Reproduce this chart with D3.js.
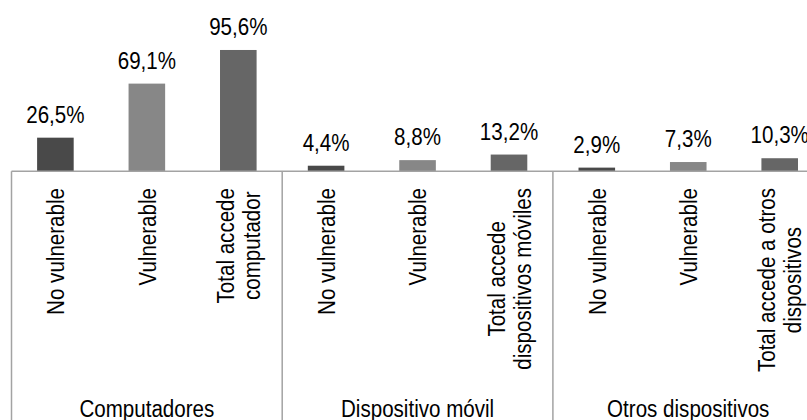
<!DOCTYPE html>
<html>
<head>
<meta charset="utf-8">
<script src="https://cdn.jsdelivr.net/npm/d3@7"></script>
<style>
  html, body { margin: 0; padding: 0; background: #fff; }
  svg { display: block; }
  text { font-family: "Liberation Sans", Arial, sans-serif; fill: #000; }
</style>
</head>
<body>
<svg id="chart" width="807" height="420"></svg>
<script>
// ---- data ----
const groups = ["Computadores", "Dispositivo móvil", "Otros dispositivos"];
const barTypes = ["nv", "v", "total"];
const barLabels = [
  [["No vulnerable"], ["Vulnerable"], ["Total accede", "computador"]],
  [["No vulnerable"], ["Vulnerable"], ["Total accede", "dispositivos móviles"]],
  [["No vulnerable"], ["Vulnerable"], ["Total accede a otros", "dispositivos"]]
];
const values = [
  [26.5, 69.1, 95.6],
  [4.4, 8.8, 13.2],
  [2.9, 7.3, 10.3]
];
const valueLabels = [
  ["26,5%", "69,1%", "95,6%"],
  ["4,4%", "8,8%", "13,2%"],
  ["2,9%", "7,3%", "10,3%"]
];
const colors = ["#494949", "#878787", "#666666"];

// ---- layout ----
const svg = d3.select("#chart");
const x0 = 11.5, groupW = 270.7, baseY = 171.3;
const xGroup = d3.scaleBand().domain(groups).range([x0, x0 + groupW * groups.length]).padding(0);
const xBar = d3.scaleBand().domain(barTypes).range([0, xGroup.bandwidth()]).paddingInner(0.6).paddingOuter(0.28);
const y = d3.scaleLinear().domain([0, 100]).range([baseY, 44.4]);

const fs = 24.5, lh = 26, labelTop = 188, sx = 0.84;
const axisColor = "#a3a3a3";

const data = [];
groups.forEach((g, gi) => barTypes.forEach((t, ti) => data.push({
  g, gi, t, ti, v: values[gi][ti], lab: valueLabels[gi][ti], cat: barLabels[gi][ti]
})));

// bars
svg.append("g").selectAll("rect").data(data).join("rect")
  .attr("x", d => xGroup(d.g) + xBar(d.t))
  .attr("y", d => y(d.v))
  .attr("width", xBar.bandwidth())
  .attr("height", d => y(0) - y(d.v))
  .attr("fill", d => colors[d.ti]);

// value labels (narrow look via horizontal scale)
svg.append("g").selectAll("text").data(data).join("text")
  .attr("transform", d => `translate(${xGroup(d.g) + xBar(d.t) + xBar.bandwidth() / 2},${y(d.v) - 15}) scale(${sx},1)`)
  .attr("text-anchor", "middle")
  .attr("font-size", fs)
  .text(d => d.lab);

// axis lines
const ax = svg.append("g").attr("stroke", axisColor).attr("stroke-width", 1.5).attr("fill", "none");
ax.append("line").attr("x1", x0).attr("x2", 830).attr("y1", baseY).attr("y2", baseY);
const dividers = groups.map(g => xGroup(g)).concat([xGroup(groups[groups.length - 1]) + xGroup.bandwidth()]);
ax.selectAll("line.div").data(dividers).join("line").attr("class", "div")
  .attr("x1", d => d).attr("x2", d => d).attr("y1", baseY).attr("y2", 430);

// rotated category labels
const capH = fs * 0.716;
const catG = svg.append("g");
data.forEach(d => {
  const cx = xGroup(d.g) + xBar(d.t) + xBar.bandwidth() / 2;
  const gEl = catG.append("g").attr("transform", `translate(${cx},${labelTop}) rotate(-90) scale(${sx},1)`);
  const n = d.cat.length;
  const texts = d.cat.map((line, i) => gEl.append("text")
    .attr("font-size", fs)
    .attr("y", capH / 2 + (i - (n - 1) / 2) * lh)
    .text(line));
  const maxL = d3.max(texts, t => t.node().getComputedTextLength());
  texts.forEach(t => t.attr("text-anchor", "middle").attr("x", -maxL / 2));
});

// group labels
svg.append("g").selectAll("text").data(groups).join("text")
  .attr("transform", g => `translate(${xGroup(g) + xGroup.bandwidth() / 2},417) scale(${sx},1)`)
  .attr("text-anchor", "middle")
  .attr("font-size", fs)
  .text(g => g);
</script>
</body>
</html>
